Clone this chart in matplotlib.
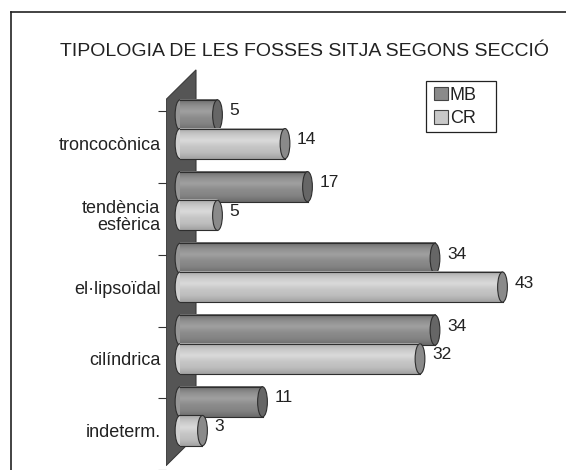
import numpy as np
import matplotlib
matplotlib.use("Agg")
import matplotlib.pyplot as plt
from matplotlib.patches import Ellipse, Polygon, Patch, Rectangle
from matplotlib.colors import LinearSegmentedColormap
from matplotlib.lines import Line2D

plt.rcParams['font.family'] = ['Liberation Sans', 'DejaVu Sans']

categories = ["troncocònica", "tendència\nesfèrica", "el·lipsoïdal", "cilíndrica", "indeterm."]
mb = [5, 17, 34, 34, 11]
cr = [14, 5, 43, 32, 3]
series = ["MB", "CR"]

W, H = 566, 470
fig = plt.figure(figsize=(W/100, H/100), dpi=100)

# axes: x zero at pixel 180, 7.5 px per unit; category 0 centre at pixel 130, 72.5 px per category
x0, sx = 180, 7.5
y0, sy = 130, 72.5
ax_l, ax_r, ax_t, ax_b = 166, 541, 60, 470
ax = fig.add_axes([ax_l/W, 1-ax_b/H, (ax_r-ax_l)/W, (ax_b-ax_t)/H])
xlim = ((ax_l-x0)/sx, (ax_r-x0)/sx)
ylim = ((ax_b-y0)/sy, (ax_t-y0)/sy)

# back wall
wall = Polygon([((166-x0)/sx, (100-y0)/sy), ((196-x0)/sx, (70-y0)/sy),
                ((196-x0)/sx, (440-y0)/sy), ((166-x0)/sx, (470-y0)/sy)],
               closed=True, facecolor="#555555", edgecolor="#3a3a3a", lw=0.8, zorder=0)
ax.add_patch(wall)

cm_mb = LinearSegmentedColormap.from_list("mb", ["#6c6c6c", "#8e8e8e", "#a0a0a0", "#8c8c8c", "#838383", "#6a6a6a"])
cm_cr = LinearSegmentedColormap.from_list("cr", ["#a8a8a8", "#c8c8c8", "#dadada", "#c6c6c6", "#bdbdbd", "#a2a2a2"])
grad = np.linspace(0, 1, 64).reshape(-1, 1)

h = 0.42
off = 0.2
capw = 1.3
edge = "#2e2e2e"

def cylinder(c, v, cmap, capcol, z):
    ax.add_patch(Ellipse((0, c), capw, h, facecolor=cmap(0.5), edgecolor=edge, lw=0.8, zorder=z))
    ax.imshow(grad, cmap=cmap, extent=[0, v, c+h/2, c-h/2], aspect="auto",
              origin="upper", zorder=z+0.1, interpolation="bilinear")
    ax.plot([0, v], [c-h/2, c-h/2], color=edge, lw=0.8, zorder=z+0.2)
    ax.plot([0, v], [c+h/2, c+h/2], color=edge, lw=0.8, zorder=z+0.2)
    ax.add_patch(Ellipse((v, c), capw, h, facecolor=capcol, edgecolor=edge, lw=0.8, zorder=z+0.3))
    ax.annotate(str(v), (v + capw/2, c), xytext=(7, 4), textcoords="offset pixels",
                ha="left", va="center", fontsize=12.5, color="#222222", zorder=10)

for i in range(len(categories)):
    cylinder(i - off, mb[i], cm_mb, "#666666", 2 + i*2)
    cylinder(i + off, cr[i], cm_cr, "#8a8a8a", 3 + i*2)

ax.set_xlim(*xlim)
ax.set_ylim(*ylim)
ax.set_xticks([])
ax.set_yticks(np.arange(len(categories)) + 0.2, categories)
ax.set_yticks(np.arange(len(categories) + 1) - 0.25, minor=True)
ax.tick_params(axis="y", which="major", length=0, pad=4, labelsize=13, labelcolor="#222222")
ax.tick_params(axis="y", which="minor", length=6, width=0.8, color="#333333")
for lab in ax.get_yticklabels():
    lab.set_linespacing(0.95)
for s in ax.spines.values():
    s.set_visible(False)
ax.patch.set_visible(False)

fig.text(304/W, 1-51/H, "TIPOLOGIA DE LES FOSSES SITJA SEGONS SECCIÓ",
         ha="center", va="center", fontsize=14, color="#222222")

handles = [Patch(facecolor="#8a8a8a", edgecolor="#444444", lw=0.8),
           Patch(facecolor="#c8c8c8", edgecolor="#444444", lw=0.8)]
leg = fig.legend(handles, series, loc="upper left", bbox_to_anchor=(430/W, 1-83/H),
                 fontsize=13, frameon=False, handlelength=0.8, handleheight=0.8,
                 handletextpad=0.1, labelspacing=0.35, borderpad=0.2, borderaxespad=0)
for t in leg.get_texts():
    t.set_color("#222222")
fig.add_artist(Rectangle((426/W, 1-132/H), 70/W, 51/H, transform=fig.transFigure,
                         fill=False, edgecolor="#222222", lw=0.9))

# outer frame
fig.add_artist(Line2D([11/W, 1], [1-12/H, 1-12/H], color="#222222", lw=1.2))
fig.add_artist(Line2D([11/W, 11/W], [1-12/H, 0], color="#222222", lw=1.2))

fig.savefig("out.png", dpi=100)
